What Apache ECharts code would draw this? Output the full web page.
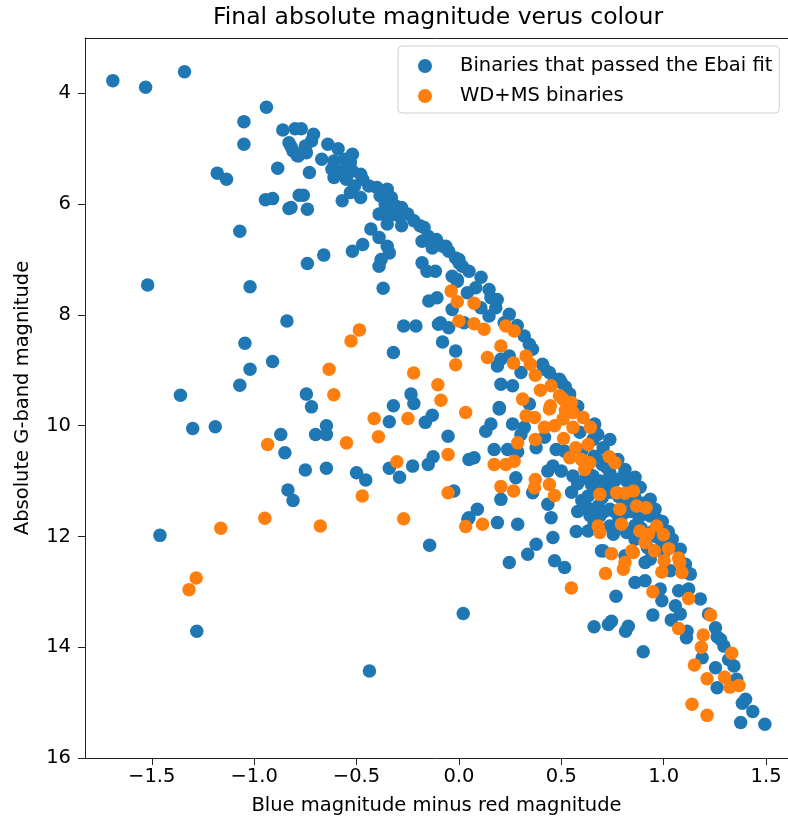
<!DOCTYPE html>
<html>
<head>
<meta charset="utf-8">
<script src="https://cdn.jsdelivr.net/npm/echarts@6/dist/echarts.min.js"></script>
<style>
  html, body { margin: 0; padding: 0; background: #fff; }
  #chart { width: 788px; height: 822px; }
</style>
</head>
<body>
<div id="chart"></div>
<script>
// Colour index (B - R) and absolute G magnitude for binaries that passed the Ebai fit
const ebaiBinaries = [
  [-1.69,3.77],[-1.53,3.89],[-1.34,3.61],[-0.94,4.25],[-1.05,4.51],[-0.86,4.66],[-1.05,4.92],[-0.82,4.96],
  [-0.79,5.12],[-0.885,5.35],[-1.18,5.44],[-1.135,5.55],[-0.945,5.92],[-0.91,5.90],[-0.83,6.08],[-0.78,5.84],
  [-1.07,6.49],[-1.52,7.46],[-1.02,7.49],[-0.84,8.11],[-1.045,8.51],[-0.91,8.84],[-1.02,8.98],[-1.07,9.27],
  [-1.36,9.45],[-1.30,10.05],[-1.19,10.02],[-0.87,10.16],[-0.85,10.49],[-0.835,11.16],[-0.81,11.35],[-1.46,11.98],
  [-1.28,13.71],
  [-0.80,4.64],[-0.77,4.64],[-0.71,4.74],[-0.72,4.86],[-0.83,4.89],[-0.81,5.04],[-0.75,4.95],[-0.785,5.13],
  [-0.745,5.07],[-0.64,4.92],[-0.59,5.00],[-0.67,5.19],[-0.61,5.22],[-0.56,5.19],[-0.53,5.25],[-0.62,5.37],
  [-0.57,5.40],[-0.52,5.40],[-0.48,5.46],[-0.61,5.52],[-0.55,5.55],[-0.47,5.55],[-0.51,5.67],[-0.44,5.67],
  [-0.57,5.94],[-0.53,5.79],[-0.48,5.88],[-0.73,5.43],[-0.76,5.84],[-0.74,6.09],[-0.82,6.06],[-0.35,5.73],
  [-0.385,5.85],[-0.33,5.88],[-0.36,6.00],[-0.31,6.03],[-0.28,6.06],[-0.39,6.18],[-0.34,6.21],[-0.295,6.21],
  [-0.25,6.18],[-0.35,6.36],[-0.28,6.39],[-0.22,6.30],[-0.19,6.39],[-0.43,6.45],[-0.39,6.60],[-0.47,6.73],
  [-0.52,6.85],[-0.35,6.76],[-0.34,6.88],[-0.38,7.00],[-0.39,7.12],[-0.66,6.92],[-0.74,7.07],[-0.18,6.67],
  [-0.15,6.58],[-0.115,6.67],[-0.08,6.76],[-0.13,6.79],[-0.05,6.85],[-0.016,6.97],[0.016,7.12],[-0.18,7.06],
  [-0.156,7.21],[-0.115,7.21],[-0.033,7.30],[-0.008,7.39],[-0.37,7.52],[-0.147,7.75],[-0.107,7.69],[-0.09,8.14],
  [-0.033,7.90],[-0.27,8.20],[-0.21,8.20],[0.025,8.14],[-0.52,5.10],[-0.40,5.70],[-0.295,6.09],[-0.17,6.42],
  [-0.11,6.64],[-0.064,6.76],[0.0,7.00],
  [-0.10,8.17],[-0.05,8.23],[-0.32,8.68],[-0.08,8.49],[-0.016,8.65],[-0.745,9.43],[-0.72,9.66],[-0.234,9.43],
  [-0.22,9.60],[-0.32,9.64],[-0.34,9.93],[-0.164,9.94],[-0.13,9.81],[-0.647,10.00],[-0.70,10.16],[-0.647,10.16],
  [-0.053,10.19],[-0.75,10.80],[-0.647,10.77],[-0.50,10.85],[-0.455,10.98],[-0.34,10.77],[-0.29,10.93],[-0.226,10.73],
  [-0.15,10.70],[-0.126,10.56],[0.049,10.61],[-0.025,11.18],[0.044,11.69],[-0.143,12.16],
  [0.021,13.39],[-0.437,14.43],[0.767,13.08],[0.66,13.63],[0.73,13.59],[0.745,13.53],[0.814,13.71],[0.827,13.62],
  [0.90,14.08],
  [0.516,12.56],[0.696,12.26],[0.909,12.47],[0.934,12.41],[1.032,12.62],[1.114,12.65],[0.86,12.83],[0.909,12.80],
  [0.983,12.95],[0.991,13.16],[1.073,12.98],[1.122,12.95],[0.947,13.42],[1.057,13.25],[1.081,13.40],[1.037,13.51],
  [1.114,13.71],[1.111,13.83],[1.253,13.65],[1.261,13.81],[1.294,13.98],[1.188,14.19],[1.253,14.37],[1.343,14.34],
  [1.261,14.73],[1.384,15.01],[1.376,15.36],[1.494,15.39],
  [0.50,9.22],[0.541,9.43],[0.59,10.12],[0.655,10.25],[0.704,10.40],[0.516,10.46],[0.557,10.91],[0.655,10.91],
  [0.737,10.85],[0.803,10.91],[0.647,11.06],[0.721,11.06],[0.631,11.27],[0.86,11.30],[0.68,11.45],[0.737,11.51],
  [0.934,11.63],[0.688,11.63],[0.737,11.81],[0.573,11.91],[0.631,11.90],[0.754,11.96],[0.819,11.93],[0.991,12.11],
  [0.966,11.69],[0.704,12.26],[0.811,12.35],
  [0.197,9.70],[0.156,9.97],[0.131,10.10],[0.262,9.97],[0.319,10.03],[0.303,10.16],[0.418,10.21],[0.172,10.43],
  [0.238,10.43],[0.287,10.47],[0.377,10.40],[0.475,10.43],[0.074,10.58],[0.459,10.73],[0.434,10.82],[0.50,10.82],
  [0.278,10.94],[0.205,11.33],[0.36,11.21],[0.434,11.42],[0.09,11.51],[0.049,11.66],[0.188,11.75],[0.287,11.78],
  [0.45,11.66],[0.459,12.02],[0.377,12.14],[0.336,12.32],[0.246,12.47],[0.467,12.44],
  [0.0,7.06],[0.049,7.21],[-0.008,7.36],[0.082,7.51],[0.041,7.60],[0.107,7.87],[0.156,7.69],[0.18,7.87],
  [0.147,8.02],[0.221,8.14],[0.319,8.38],[0.344,8.53],[0.205,8.80],[0.246,8.74],[0.188,8.92],[0.303,9.04],
  [0.418,8.98],[0.467,9.16],[0.205,9.25],[0.262,9.28],[0.344,9.61],[0.197,9.67],
  [0.108,7.32],[0.147,7.54],[0.187,7.72],[0.246,7.99],[0.285,8.19],[0.359,8.62],[0.408,8.89],[0.442,9.04],
  [0.491,9.16],[0.663,9.97],[0.678,10.16],[0.737,10.25],[0.776,10.61],[0.811,10.79],[0.86,10.93],[0.885,11.11],
  [0.934,11.33],[0.958,11.51],[0.993,11.73],[1.022,11.91],[1.042,12.05],[1.081,12.23],[1.106,12.50],[1.13,12.68],
  [1.179,13.13],[1.219,13.40],[1.278,13.86],[1.317,14.22],[1.356,14.58],[1.40,14.94],[1.435,15.16],
  [0.62,10.95],[0.67,11.15],[0.74,11.2],[0.80,11.35],[0.76,11.55],[0.84,11.55],[0.88,11.65],[0.62,11.45],
  [0.58,11.55],[0.64,11.62],[0.69,11.0],[0.76,11.0],[0.84,11.05],[0.90,11.4],[0.78,11.65],[0.86,11.8],
  [0.95,11.9],[0.52,9.30],[0.58,9.65],[0.66,10.55],[0.70,10.70],
  [0.60,10.45],[0.68,10.62],[0.72,10.75],[0.63,10.85],[0.75,10.95],[0.82,11.0],[0.70,11.3],[0.78,11.28],
  [0.85,11.42],[0.93,11.55],[0.71,11.55],[0.80,11.6],[0.89,11.85],[0.96,12.0],[0.66,11.75],[0.76,11.9],
  [0.86,12.05],[0.92,12.2],[1.0,12.3],[0.55,11.2],[0.58,11.05],[0.60,11.35]
];

// White dwarf + main sequence binaries
const wdmsBinaries = [
  [-0.934,10.34],[-0.948,11.67],[-1.163,11.85],[-1.283,12.75],[-1.318,12.96],
  [-0.038,7.57],[-0.008,7.76],[0.0,8.11],[-0.486,8.27],[-0.527,8.47],
  [-0.016,8.90],[-0.634,8.98],[-0.221,9.05],[-0.103,9.26],[-0.088,9.54],[-0.611,9.44],[-0.414,9.87],[-0.249,9.87],
  [0.033,9.76],[-0.549,10.31],[-0.393,10.20],[-0.053,10.52],[-0.303,10.65],[-0.472,11.27],[-0.053,11.21],[-0.677,11.81],
  [-0.270,11.68],[0.033,11.82],
  [0.549,12.93],[0.716,12.67],[0.745,12.31],[0.811,12.47],[0.803,12.59],[0.852,12.29],[0.955,12.26],[1.002,12.44],
  [0.991,12.64],[1.078,12.47],[1.089,12.65],[0.947,13.00],[1.122,13.12],[1.073,13.66],[1.229,13.42],[1.193,13.78],
  [1.184,14.00],[1.332,14.11],[1.150,14.32],[1.212,14.57],[1.297,14.54],[1.323,14.72],[1.368,14.69],[1.138,15.03],
  [1.212,15.23],
  [0.508,9.52],[0.549,9.58],[0.557,9.76],[0.606,9.85],[0.508,9.88],[0.557,10.03],[0.642,10.03],[0.511,10.23],
  [0.631,10.34],[0.570,10.40],[0.541,10.58],[0.598,10.61],[0.639,10.67],[0.614,10.79],[0.734,10.56],[0.762,10.67],
  [0.688,11.24],[0.770,11.21],[0.811,11.22],[0.852,11.18],[0.786,11.51],[0.868,11.45],[0.914,11.48],[0.680,11.81],
  [0.688,11.93],[0.794,11.78],[0.884,11.90],[0.925,11.96],[0.966,11.81],[0.999,11.97],[0.909,12.11],[1.024,12.22],
  [0.844,12.26],[1.073,12.39],
  [0.328,9.82],[0.369,9.85],[0.442,9.70],[0.52,9.72],[0.418,10.03],[0.467,10.00],[0.287,10.31],[0.373,10.25],
  [0.172,10.70],[0.229,10.70],[0.270,10.64],[0.205,11.10],[0.267,11.18],[0.373,10.97],[0.369,11.12],[0.442,11.06],
  [0.467,11.26],[0.115,11.78],
  [0.074,7.79],[0.074,8.16],[0.123,8.26],[0.229,8.20],[0.270,8.29],[0.205,8.56],[0.139,8.77],[0.267,8.87],
  [0.328,8.74],[0.349,8.89],[0.373,9.09],[0.398,9.36],[0.450,9.28],[0.491,9.46],[0.311,9.52],[0.447,9.64]
];

// Tick positions
const xTicks = [-1.5, -1.0, -0.5, 0.0, 0.5, 1.0, 1.5];
const yTicks = [4, 6, 8, 10, 12, 14, 16];

// Axis extents
const xMin = -1.826, xMax = 1.607;
const yMin = 3.0, yMax = 16.0;

const FONT = 'DejaVu Sans';
const INK = '#000';
const fmtTick = v => (v < 0 ? '\u2212' : '') + Math.abs(v).toFixed(1);

const chart = echarts.init(document.getElementById('chart'), null, { renderer: 'canvas' });
chart.setOption({
  animation: false,
  backgroundColor: '#fff',
  textStyle: { fontFamily: FONT },
  graphic: [{
    type: 'text',
    x: 438, y: 18,
    style: {
      text: 'Final absolute magnitude verus colour',
      font: '23.5px "DejaVu Sans"',
      fill: INK,
      textAlign: 'center',
      textVerticalAlign: 'middle'
    }
  }],
  grid: { left: 85, top: 38, right: 0, bottom: 64, show: false },
  legend: {
    orient: 'vertical',
    left: 398, top: 46,
    padding: [10, 7, 7, 20],
    itemWidth: 14, itemHeight: 14, itemGap: 10,
    icon: 'circle',
    backgroundColor: '#fff',
    borderColor: '#d0d0d0', borderWidth: 1, borderRadius: 4,
    textStyle: { fontFamily: FONT, fontSize: 19.5, lineHeight: 20, color: INK, padding: [0, 0, 0, 23] },
    data: ['Binaries that passed the Ebai fit', 'WD+MS binaries']
  },
  xAxis: [
    {
      type: 'value',
      min: xMin, max: xMax,
      name: 'Blue magnitude minus red magnitude',
      nameLocation: 'middle', nameGap: 38,
      nameTextStyle: { fontFamily: FONT, fontSize: 19.5, color: INK },
      axisLine: { show: true, onZero: false, lineStyle: { color: '#222' } },
      axisTick: { show: true, length: 7, inside: false, customValues: xTicks, lineStyle: { color: '#222' } },
      axisLabel: { customValues: xTicks, formatter: fmtTick, fontFamily: FONT, fontSize: 19.5, color: INK, margin: 9 },
      splitLine: { show: false }
    },
    {
      // top frame line
      type: 'value', position: 'top',
      min: xMin, max: xMax,
      axisLine: { show: true, onZero: false, lineStyle: { color: '#222' } },
      axisTick: { show: false }, axisLabel: { show: false }, splitLine: { show: false }
    }
  ],
  yAxis: {
    type: 'value',
    inverse: true,
    min: yMin, max: yMax,
    name: 'Absolute G-band magnitude',
    nameLocation: 'middle', nameGap: 52,
    nameTextStyle: { fontFamily: FONT, fontSize: 19.5, color: INK },
    axisLine: { show: true, onZero: false, lineStyle: { color: '#222' } },
    axisTick: { show: true, length: 7, inside: false, customValues: yTicks, lineStyle: { color: '#222' } },
    axisLabel: { customValues: yTicks, fontFamily: FONT, fontSize: 19.5, color: INK, margin: 14 },
    splitLine: { show: false }
  },
  series: [
    {
      name: 'Binaries that passed the Ebai fit',
      type: 'scatter',
      symbol: 'circle', symbolSize: 13.5,
      itemStyle: { color: '#1f77b4', opacity: 1 },
      emphasis: { disabled: true },
      data: ebaiBinaries
    },
    {
      name: 'WD+MS binaries',
      type: 'scatter',
      symbol: 'circle', symbolSize: 13.5,
      itemStyle: { color: '#ff7f0e', opacity: 1 },
      emphasis: { disabled: true },
      data: wdmsBinaries
    }
  ]
});
</script>
</body>
</html>
